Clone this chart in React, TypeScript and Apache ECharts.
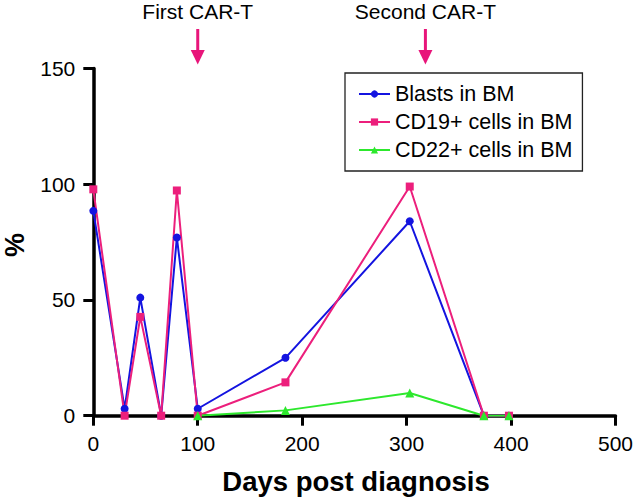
import React, { useEffect, useRef } from "react";
import * as echarts from "echarts";

const blastDays = [0, 30, 45, 65, 80, 100, 184, 303, 374, 398];
const blastValues = [88.5, 3, 51, 0, 77, 3, 25, 84, 0, 0];

const cd19Days = [0, 30, 45, 65, 80, 100, 184, 303, 374, 398];
const cd19Values = [97.8, 0, 42.7, 0, 97.3, 0, 14.4, 99, 0, 0];

const cd22Days = [100, 184, 303, 374, 398];
const cd22Values = [0, 2.3, 9.8, 0, 0];

const seriesNames = ["Blasts in BM", "CD19+ cells in BM", "CD22+ cells in BM"];
const xTicks = { min: 0, max: 500, interval: 100 };
const yTicks = { min: 0, max: 150, interval: 50 };

const annotationDays = [100, 318];
const annotationLabels = ["First CAR-T", "Second CAR-T"];

const FONT = "'Liberation Sans', Arial, Helvetica, sans-serif";
const BLUE = "#1414e0";
const PINK = "#ec1f7c";
const GREEN = "#2de82d";
const ARROW = "#e8157a";

const zip = (xs: number[], ys: number[]) => xs.map((x, i) => [x, ys[i]]);

export default function App() {
  const ref = useRef<HTMLDivElement>(null);
  useEffect(() => {
    if (!ref.current) return;
    const chart = echarts.init(ref.current, undefined, { renderer: "svg" });
    const axisCommon = {
      axisLine: { show: true, onZero: false, lineStyle: { color: "#000", width: 3.5 } },
      axisTick: { show: true, length: 10, lineStyle: { color: "#000", width: 3 } },
      splitLine: { show: false },
    };
    chart.setOption({
      animation: false,
      grid: { left: 93.3, right: 18.3, top: 68.5, bottom: 81.3, containLabel: false },
      xAxis: {
        type: "value",
        ...xTicks,
        ...axisCommon,
        axisLabel: { color: "#000", fontSize: 21, fontFamily: FONT, margin: 17 },
      },
      yAxis: {
        type: "value",
        ...yTicks,
        ...axisCommon,
        axisLabel: { color: "#000", fontSize: 21, fontFamily: FONT, margin: 18 },
      },
      legend: {
        orient: "vertical",
        left: 345,
        top: 73,
        padding: [10, 10, 10, 13],
        itemGap: 6,
        itemWidth: 31,
        itemHeight: 9,
        backgroundColor: "#fff",
        borderColor: "#222",
        borderWidth: 1.3,
        textStyle: { color: "#000", fontSize: 21.5, fontFamily: FONT, lineHeight: 22 },
        data: seriesNames,
      },
      series: [
        {
          name: seriesNames[0],
          type: "line",
          data: zip(blastDays, blastValues),
          symbol: "circle",
          symbolSize: 8,
          itemStyle: { color: BLUE },
          lineStyle: { color: BLUE, width: 2 },
        },
        {
          name: seriesNames[1],
          type: "line",
          data: zip(cd19Days, cd19Values),
          symbol: "rect",
          symbolSize: 8,
          itemStyle: { color: PINK },
          lineStyle: { color: PINK, width: 2 },
        },
        {
          name: seriesNames[2],
          type: "line",
          data: zip(cd22Days, cd22Values),
          symbol: "triangle",
          symbolSize: 9,
          itemStyle: { color: GREEN },
          lineStyle: { color: GREEN, width: 2 },
        },
      ],
    });

    const graphics: any[] = [];
    annotationDays.forEach((d, i) => {
      const x = chart.convertToPixel({ xAxisIndex: 0 }, d) as number;
      graphics.push({
        type: "text",
        x,
        y: 11.5,
        style: {
          text: annotationLabels[i],
          fill: "#000",
          fontSize: 21,
          fontFamily: FONT,
          textAlign: "center",
          textVerticalAlign: "middle",
        },
      });
      graphics.push({
        type: "rect",
        shape: { x: x - 1.5, y: 29, width: 3, height: 23 },
        style: { fill: ARROW },
      });
      graphics.push({
        type: "polygon",
        shape: { points: [[x - 7, 50], [x + 7, 50], [x, 64.5]] },
        style: { fill: ARROW },
      });
    });
    graphics.push({
      type: "text",
      x: 356,
      y: 481,
      style: {
        text: "Days post diagnosis",
        fill: "#000",
        fontSize: 27.5,
        fontWeight: "bold",
        fontFamily: FONT,
        textAlign: "center",
        textVerticalAlign: "middle",
      },
    });
    graphics.push({
      type: "text",
      x: 14.5,
      y: 245,
      rotation: Math.PI / 2,
      style: {
        text: "%",
        fill: "#000",
        fontSize: 27,
        fontWeight: "bold",
        fontFamily: FONT,
        textAlign: "center",
        textVerticalAlign: "middle",
      },
    });
    chart.setOption({ graphic: graphics });

    return () => chart.dispose();
  }, []);
  return <div ref={ref} style={{ width: 636, height: 497, position: "absolute", left: 0, top: 0 }} />;
}
